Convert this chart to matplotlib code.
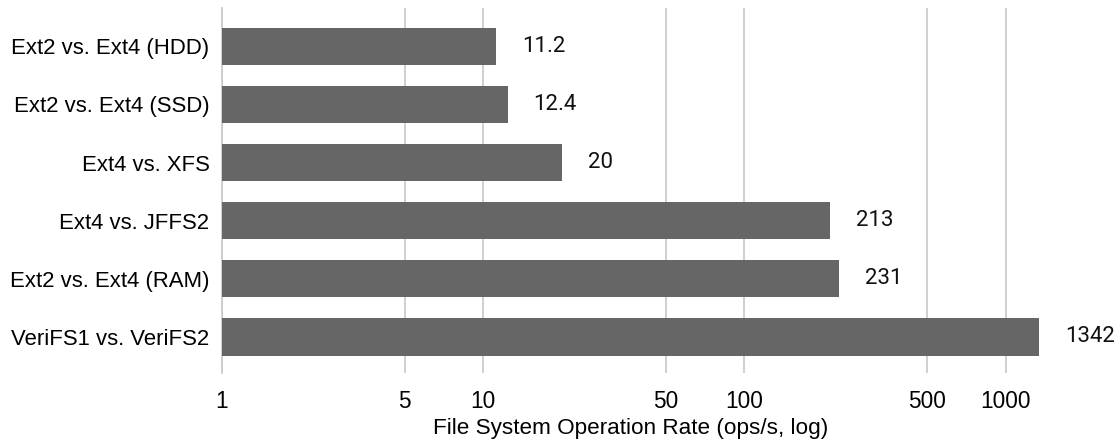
import matplotlib
matplotlib.use("Agg")
import matplotlib.pyplot as plt
from matplotlib.ticker import FixedLocator, NullLocator

# ── Data ─────────────────────────────────────────────────────────────────────
pairs = [
    "Ext2 vs. Ext4 (HDD)",
    "Ext2 vs. Ext4 (SSD)",
    "Ext4 vs. XFS",
    "Ext4 vs. JFFS2",
    "Ext2 vs. Ext4 (RAM)",
    "VeriFS1 vs. VeriFS2",
]
rates      = [11.2, 12.4, 20, 213, 231, 1342]
rate_texts = ["11.2", "12.4", "20", "213", "231", "1342"]
x_ticks    = [1, 5, 10, 50, 100, 500, 1000]

AX_FONT  = "Liberation Sans"
VAL_FONT = "Roboto"

# ── Plot ─────────────────────────────────────────────────────────────────────
fig = plt.figure(figsize=(11.2, 4.42), dpi=100)
ax = fig.add_axes([222 / 1120, 69 / 442, (1039 - 222) / 1120, 365 / 442])

y = list(range(len(pairs)))
ax.barh(y, rates, height=0.64, color="#666666", zorder=3)

ax.set_xscale("log")
ax.set_xlim(1, 1342)
ax.set_ylim(len(pairs) - 1 + 0.62, -0.66)

ax.xaxis.set_major_locator(FixedLocator(x_ticks))
ax.xaxis.set_minor_locator(NullLocator())
ax.set_xticklabels([str(t) for t in x_ticks], fontsize=16.3, family=AX_FONT)
ax.set_yticks(y)
ax.set_yticklabels(pairs, fontsize=15.9, family=AX_FONT)
ax.tick_params(axis="x", length=0, pad=12)
ax.tick_params(axis="y", length=0, pad=9)

ax.grid(axis="x", color="#cccccc", linewidth=1.3, zorder=0)
for s in ["top", "right", "bottom"]:
    ax.spines[s].set_visible(False)
ax.spines["left"].set_color("#cccccc")
ax.spines["left"].set_linewidth(1.3)

for yi, v, t in zip(y, rates, rate_texts):
    ax.annotate(t, (v, yi), xytext=(26, 0), textcoords="offset pixels",
                va="center", ha="left", fontsize=16, family=VAL_FONT,
                color="#111111")

ax.set_xlabel("File System Operation Rate (ops/s, log)", fontsize=16.2,
              family=AX_FONT, labelpad=4)

fig.savefig("out.png", dpi=100)
